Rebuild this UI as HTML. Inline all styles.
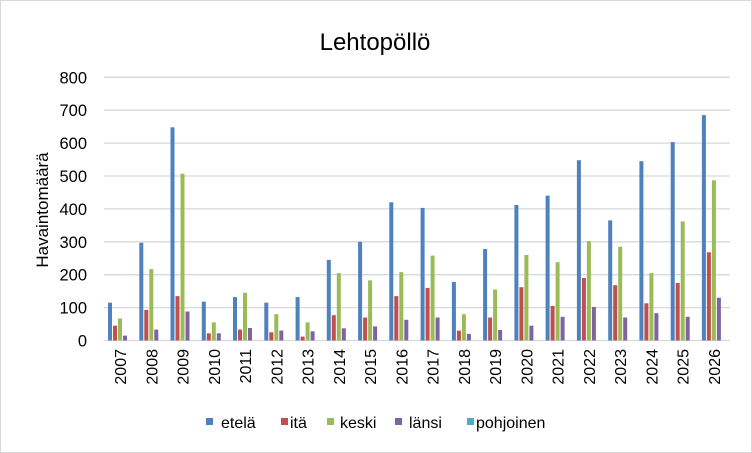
<!DOCTYPE html>
<html><head><meta charset="utf-8"><style>
html,body{margin:0;padding:0;background:#fff;}
svg{display:block;font-family:"Liberation Sans",sans-serif;}
</style></head><body>
<svg id="c" width="752" height="453" xmlns="http://www.w3.org/2000/svg">
<rect x="0.5" y="0.5" width="751" height="452" fill="#fff" stroke="#d9d9d9"/>
<text x="375" y="50" font-size="24" text-anchor="middle" fill="#000">Lehtopöllö</text>
<text transform="translate(48,210) rotate(-90)" font-size="17" text-anchor="middle" fill="#000">Havaintomäärä</text>
<g id="g"></g>
<g font-size="16" fill="#000">
<rect x="206" y="418" width="7" height="7" fill="#4f81bd"/><text x="221" y="428">etelä</text>
<rect x="281" y="418" width="7" height="7" fill="#c0504d"/><text x="290" y="428">itä</text>
<rect x="327" y="418" width="7" height="7" fill="#9bbb59"/><text x="340" y="428">keski</text>
<rect x="395" y="418" width="7" height="7" fill="#8064a2"/><text x="409" y="428">länsi</text>
<rect x="467" y="418" width="7" height="7" fill="#4bacc6"/><text x="476" y="428">pohjoinen</text>
</g>
</svg>
<script>
var d=[[115,45,67,15],[297,93,217,33],[648,135,507,88],[118,22,55,22],[132,33,145,38],[115,25,80,30],[132,12,55,28],[245,77,205,37],[300,70,183,43],[420,135,208,63],[403,160,258,70],[178,30,80,20],[278,70,155,32],[412,162,260,45],[440,105,238,72],[548,190,302,102],[365,168,285,70],[545,113,205,83],[603,175,362,72],[685,268,487,130]];
var col=["#4f81bd","#c0504d","#9bbb59","#8064a2"];
var s="",y0=340.5,k=263.2/800;
for(var i=0;i<=8;i++){var y=y0-i*100*k;s+='<line x1="104" x2="730" y1="'+y.toFixed(1)+'" y2="'+y.toFixed(1)+'" stroke="#d9d9d9" stroke-width="1.3"/>';
s+='<text x="87" y="'+(y+6).toFixed(1)+'" font-size="16.5" text-anchor="end">'+(i*100)+'</text>';}
for(var g=0;g<20;g++){var bx=108+g*31.26;
for(var j=0;j<4;j++){var h=d[g][j]*k;s+='<rect x="'+(bx+j*5).toFixed(1)+'" y="'+(y0-h).toFixed(1)+'" width="4" height="'+h.toFixed(1)+'" fill="'+col[j]+'"/>';}
var cx=bx+12.5;s+='<text transform="translate('+(cx+5.5).toFixed(1)+',349) rotate(-90)" font-size="16" text-anchor="end">'+(2007+g)+'</text>';}
document.getElementById("g").innerHTML=s;
</script>
</body></html>
